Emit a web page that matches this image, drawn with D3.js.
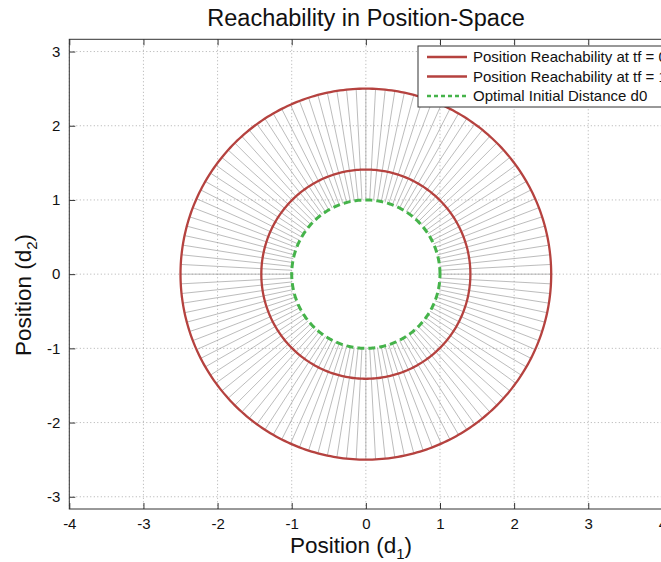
<!DOCTYPE html>
<html><head><meta charset="utf-8">
<script src="https://cdn.jsdelivr.net/npm/d3@7"></script>
<style>body{margin:0;background:#fff}svg{display:block}text{font-family:"Liberation Sans",Arial,sans-serif;fill:#111}</style>
</head><body><svg id="c" width="661" height="562"></svg>
<script>
const xTicks=[-4,-3,-2,-1,0,1,2,3,4];
const yTicks=[-3,-2,-1,0,1,2,3];
const xDomain=[-4,4];
const yDomain=[-3.165,3.165];
const outerRadius=[2.5];      // reachability at tf = 0.5 (outer)
const middleRadius=[1.41];    // reachability at tf = 1
const initialRadius=[1.0];    // optimal initial distance d0
const rayCount=[120];
const legendLabels=["Position Reachability at tf = 0.5","Position Reachability at tf = 1","Optimal Initial Distance d0"];
const red="#b5423f", green="#45b34a";

const svg=d3.select("#c");
const L=69.3,R=662.4,T=39.3,B=509;
const x=d3.scaleLinear().domain(xDomain).range([L,R]);
const y=d3.scaleLinear().domain(yDomain).range([B,T]);

svg.append("clipPath").attr("id","pc").append("rect").attr("x",L).attr("y",T).attr("width",R-L).attr("height",B-T);

// grid
const g=svg.append("g");
g.selectAll(".gx").data(xTicks).join("line").attr("x1",d=>x(d)).attr("x2",d=>x(d)).attr("y1",T).attr("y2",B)
 .attr("stroke","#9a9a9a").attr("stroke-width",0.8).attr("stroke-dasharray","1,2.5");
g.selectAll(".gy").data(yTicks).join("line").attr("y1",d=>y(d)).attr("y2",d=>y(d)).attr("x1",L).attr("x2",R)
 .attr("stroke","#9a9a9a").attr("stroke-width",0.8).attr("stroke-dasharray","1,2.5");

const plot=svg.append("g").attr("clip-path","url(#pc)");
const n=rayCount[0];
const angles=d3.range(n).map(i=>i*2*Math.PI/n);
plot.selectAll(".ray").data(angles).join("line")
 .attr("x1",a=>x(initialRadius[0]*Math.cos(a))).attr("y1",a=>y(initialRadius[0]*Math.sin(a)))
 .attr("x2",a=>x(outerRadius[0]*Math.cos(a))).attr("y2",a=>y(outerRadius[0]*Math.sin(a)))
 .attr("stroke","#8f8f8f").attr("stroke-width",0.6);

const circ=d3.range(0,361).map(i=>i*Math.PI/180);
const line=r=>d3.line().x(a=>x(r*Math.cos(a))).y(a=>y(r*Math.sin(a)))(circ);
plot.append("path").attr("d",line(outerRadius[0])).attr("fill","none").attr("stroke",red).attr("stroke-width",2.3);
plot.append("path").attr("d",line(middleRadius[0])).attr("fill","none").attr("stroke",red).attr("stroke-width",2.3);
plot.append("path").attr("d",line(initialRadius[0])).attr("fill","none").attr("stroke",green).attr("stroke-width",3).attr("stroke-dasharray","7,4");

// axes box + ticks
svg.append("rect").attr("x",L).attr("y",T).attr("width",R-L).attr("height",B-T).attr("fill","none").attr("stroke","#333").attr("stroke-width",1);
const ax=svg.append("g").attr("transform",`translate(0,${B})`).call(d3.axisBottom(x).tickValues(xTicks).tickSize(-6).tickPadding(9).tickFormat(d3.format("d")));
const ay=svg.append("g").attr("transform",`translate(${L},0)`).call(d3.axisLeft(y).tickValues(yTicks).tickSize(-6).tickPadding(9).tickFormat(d3.format("d")));
const axt=svg.append("g").attr("transform",`translate(0,${T})`).call(d3.axisTop(x).tickValues(xTicks).tickSize(-6).tickFormat(""));
[ax,ay,axt].forEach(a=>{a.select(".domain").remove();a.selectAll("line").attr("stroke","#333");a.selectAll("text").attr("font-size",15).attr("font-family","Liberation Sans, Arial, sans-serif").attr("fill","#111");});
ax.selectAll("text").text(d=>d<0?"-"+Math.abs(d):d);
ay.selectAll("text").text(d=>d<0?"-"+Math.abs(d):d);

// title & labels
svg.append("text").attr("x",366).attr("y",26).attr("text-anchor","middle").attr("font-size",23.5).text("Reachability in Position-Space");
const xl=svg.append("text").attr("x",351).attr("y",553).attr("text-anchor","middle").attr("font-size",22.5);
xl.append("tspan").text("Position (d");xl.append("tspan").attr("font-size",15).attr("dy",6).text("1");xl.append("tspan").attr("dy",-6).text(")");
const yl=svg.append("text").attr("transform","translate(31,295) rotate(-90)").attr("text-anchor","middle").attr("font-size",22.5);
yl.append("tspan").text("Position (d");yl.append("tspan").attr("font-size",15).attr("dy",6).text("2");yl.append("tspan").attr("dy",-6).text(")");

// legend
const lg=svg.append("g");
lg.append("rect").attr("x",418).attr("y",46).attr("width",260).attr("height",61).attr("fill","#fff").attr("stroke","#333").attr("stroke-width",1);
const rows=[{c:red,d:null},{c:red,d:null},{c:green,d:"4,3"}];
rows.forEach((r,i)=>{
  const yy=57+i*19.5;
  lg.append("line").attr("x1",427).attr("x2",467).attr("y1",yy).attr("y2",yy).attr("stroke",r.c).attr("stroke-width",2.5).attr("stroke-dasharray",r.d);
  lg.append("text").attr("x",473).attr("y",yy+5).attr("font-size",15).text(legendLabels[i]);
});
</script></body></html>
